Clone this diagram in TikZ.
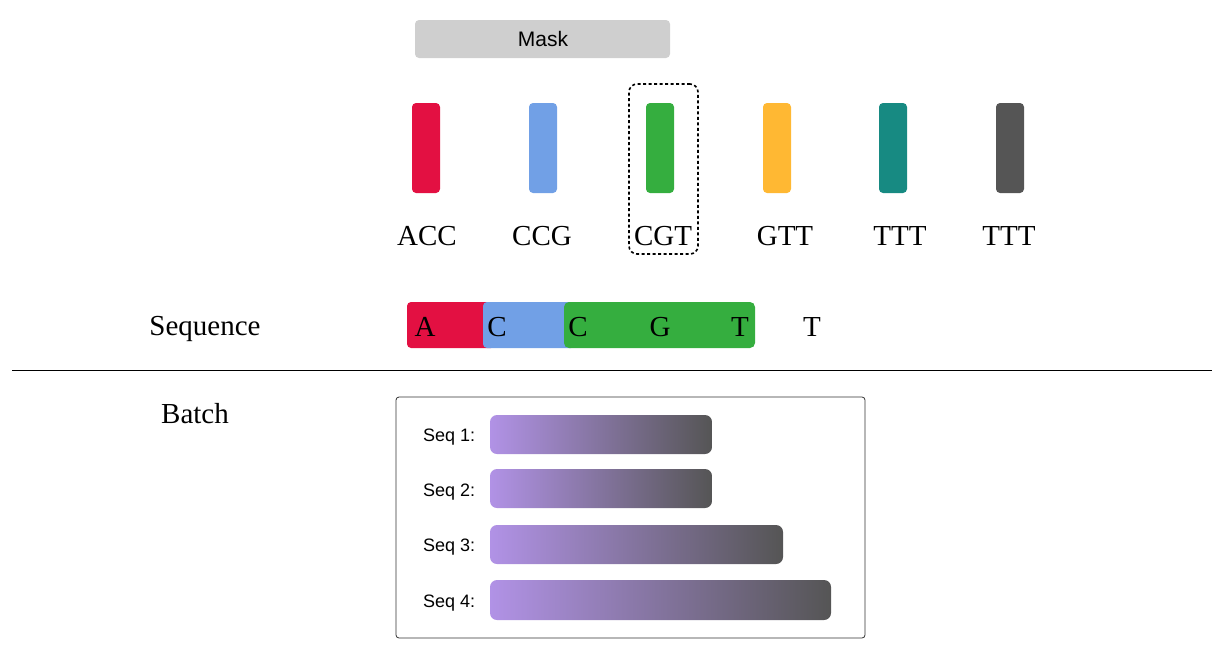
\documentclass[tikz,border=0pt]{standalone}
\usepackage{fontspec}
\setmainfont{Liberation Serif}
\newfontfamily\uisans{Liberation Sans}
\definecolor{tokred}{HTML}{E31042}
\definecolor{tokblue}{HTML}{71A0E6}
\definecolor{tokgreen}{HTML}{35AE3F}
\definecolor{tokyellow}{HTML}{FFB833}
\definecolor{tokteal}{HTML}{178A82}
\definecolor{tokgray}{HTML}{555555}
\definecolor{maskgray}{HTML}{CFCFCF}
\definecolor{purp}{HTML}{B192E6}
\begin{document}
\begin{tikzpicture}[x=1pt,y=-1pt,
  tokbar/.style={rounded corners=4pt,minimum width=28pt,minimum height=90pt,inner sep=0pt},
  serifbig/.style={font=\fontsize{29}{30}\selectfont,inner sep=0pt,anchor=base},
  seqlab/.style={font=\uisans\fontsize{18}{20}\selectfont,anchor=base west,inner sep=0pt},
  gbar/.style={rounded corners=7pt,left color=purp,right color=tokgray}]
\useasboundingbox (0,0) rectangle (1225,656);
% Mask
\node[fill=maskgray,rounded corners=4pt,minimum width=255pt,minimum height=38pt,inner sep=0pt] (mask) at (542.5,39) {};
\node[font=\uisans\fontsize{21}{22}\selectfont,anchor=base,inner sep=0pt] (masklab) at (543,46) {Mask};
% token bars
\node[tokbar,fill=tokred] (b1) at (426,148) {};
\node[tokbar,fill=tokblue] (b2) at (543,148) {};
\node[tokbar,fill=tokgreen] (b3) at (660,148) {};
\node[tokbar,fill=tokyellow] (b4) at (777,148) {};
\node[tokbar,fill=tokteal] (b5) at (893,148) {};
\node[tokbar,fill=tokgray] (b6) at (1010,148) {};
\node[serifbig] (l1) at (427,245) {ACC};
\node[serifbig] (l2) at (542,245) {CCG};
\node[serifbig] (l3) at (663,245) {CGT};
\node[serifbig] (l4) at (785,245) {GTT};
\node[serifbig] (l5) at (900,245) {TTT};
\node[serifbig] (l6) at (1009,245) {TTT};
\node[draw,line width=1.6pt,dash pattern=on 3pt off 2.5pt,rounded corners=8pt,minimum width=69pt,minimum height=170pt,inner sep=0pt] (sel) at (663.5,169) {};
% sequence
\node[serifbig] (seqtitle) at (205,335) {Sequence};
\fill[tokred,rounded corners=4pt] (407,302) rectangle (495,348);
\fill[tokblue,rounded corners=4pt] (483,302) rectangle (575,348);
\fill[tokgreen,rounded corners=5pt] (564,302) rectangle (755,348);
\node[serifbig] (s1) at (425,336) {A};
\node[serifbig] (s2) at (497,336) {C};
\node[serifbig] (s3) at (578,336) {C};
\node[serifbig] (s4) at (660,336) {G};
\node[serifbig] (s5) at (740,336) {T};
\node[serifbig] (s6) at (812,336) {T};
% divider
\coordinate (dl) at (12,370);
\coordinate (dr) at (1212,370);
\draw[line width=1pt] (dl) -- (dr);
% batch
\node[serifbig] (batch) at (195,423) {Batch};
\node[draw=black!80,line width=0.8pt,rounded corners=3pt,minimum width=469pt,minimum height=241pt,inner sep=0pt] (bbox) at (630.5,517.5) {};
\shade[gbar] (490,415) rectangle (712,454);
\shade[gbar] (490,469) rectangle (712,508);
\shade[gbar] (490,525) rectangle (783,564);
\shade[gbar] (490,580) rectangle (831,620);
\node[seqlab] (q1) at (423,441) {Seq 1:};
\node[seqlab] (q2) at (423,496) {Seq 2:};
\node[seqlab] (q3) at (423,551) {Seq 3:};
\node[seqlab] (q4) at (423,607) {Seq 4:};
\end{tikzpicture}
\end{document}
